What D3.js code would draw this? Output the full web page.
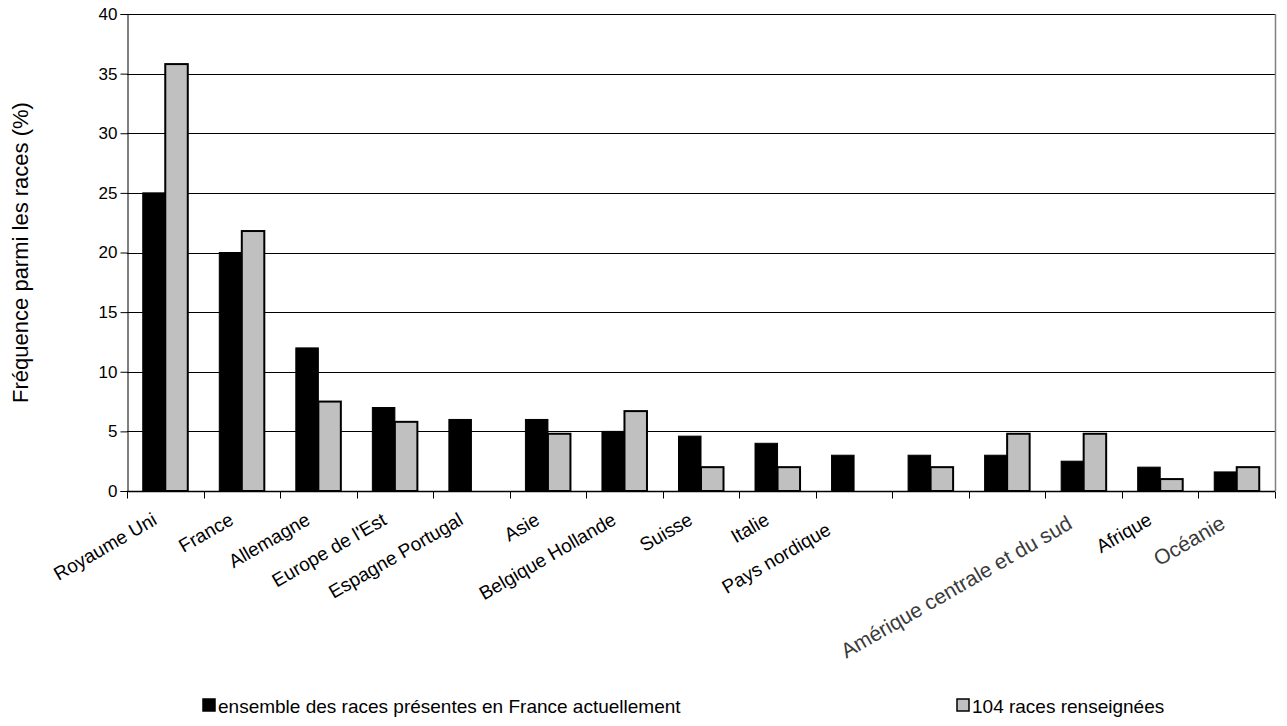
<!DOCTYPE html>
<html>
<head>
<meta charset="utf-8">
<script src="https://cdn.jsdelivr.net/npm/d3@7"></script>
<style>
  body { margin: 0; background: #fff; }
  text { font-family: "Liberation Sans", Arial, sans-serif; fill: #000; }
</style>
</head>
<body>
<div id="chart-container"></div>
<script>
// Data
const categories = ["Royaume Uni", "France", "Allemagne", "Europe de l'Est", "Espagne Portugal",
  "Asie", "Belgique Hollande", "Suisse", "Italie", "Pays nordique", "", "",
  "Amérique centrale et du sud", "Afrique", "Océanie"];
const seriesNames = ["ensemble des races présentes en France actuellement", "104 races renseignées"];
const allBreeds = [25, 20, 12, 7, 6, 6, 5, 4.6, 4, 3, 3, 3, 2.5, 2, 1.6];
const breeds104 = [35.8, 21.8, 7.5, 5.8, 0, 4.8, 6.7, 2, 2, 0, 2, 4.8, 4.8, 1, 2];
const yTicks = [0, 5, 10, 15, 20, 25, 30, 35, 40];
const seriesColors = ["#000000", "#c0c0c0"];

// Set dimensions and margins for the chart
const margin = { top: 14, right: 12, bottom: 235, left: 127 };
const width = 1287 - margin.left - margin.right;
const height = 726 - margin.top - margin.bottom;

const svg = d3.select("#chart-container")
    .append("svg")
        .attr("width", 1287)
        .attr("height", 726)
    .append("g")
        .attr("transform", `translate(${margin.left},${margin.top})`);

// Scales
const x0 = d3.scaleBand()
    .domain(d3.range(categories.length))
    .range([0, width])
    .padding(0);

const x1 = d3.scaleBand()
    .domain([0, 1])
    .range([0, x0.bandwidth()])
    .paddingInner(0)
    .paddingOuter(0.7);

const y = d3.scaleLinear().domain([0, 40]).range([height, 0]);

// Horizontal grid lines
svg.append("g")
    .selectAll("line")
    .data(yTicks.filter(d => d > 0))
    .join("line")
    .attr("x1", 0)
    .attr("x2", width)
    .attr("y1", d => Math.round(y(d)) + 0.5)
    .attr("y2", d => Math.round(y(d)) + 0.5)
    .attr("stroke", "#000")
    .attr("stroke-width", 1);

// Right border of the plot area
svg.append("line")
    .attr("x1", width + 0.5)
    .attr("x2", width + 0.5)
    .attr("y1", 0)
    .attr("y2", height)
    .attr("stroke", "#808080")
    .attr("stroke-width", 1.5);

// Bars
const rows = categories.map((c, i) => [allBreeds[i], breeds104[i]]);

const groups = svg.append("g")
    .selectAll("g")
    .data(rows)
    .join("g")
    .attr("transform", (d, i) => `translate(${x0(i)},0)`);

groups.selectAll("rect")
    .data(d => d.map((v, s) => ({ v, s })).filter(d => d.v > 0))
    .join("rect")
    .attr("x", d => x1(d.s))
    .attr("y", d => y(d.v))
    .attr("width", x1.bandwidth())
    .attr("height", d => y(0) - y(d.v))
    .attr("fill", d => seriesColors[d.s])
    .attr("stroke", "#000")
    .attr("stroke-width", d => d.s === 1 ? 2 : 1);

// Y axis
svg.append("g")
    .attr("transform", "translate(0.5,0)")
    .call(d3.axisLeft(y).tickValues(yTicks).tickSize(7).tickPadding(3))
    .call(g => g.select(".domain").attr("stroke", "#000"))
    .call(g => g.selectAll("text").style("font-size", "17px"));

// X axis (ticks between categories)
const xAxis = svg.append("g")
    .attr("transform", `translate(0,${height + 0.5})`);

xAxis.append("line")
    .attr("x1", 0)
    .attr("x2", width)
    .attr("stroke", "#000")
    .attr("stroke-width", 1.5);

xAxis.selectAll(".tick")
    .data(d3.range(categories.length + 1))
    .join("line")
    .attr("class", "tick")
    .attr("x1", i => Math.round(i * x0.step()) + 0.5)
    .attr("x2", i => Math.round(i * x0.step()) + 0.5)
    .attr("y1", 0)
    .attr("y2", 7)
    .attr("stroke", "#000");

// Category labels, rotated (the last two were pasted in larger and greyer)
const pasted = d => d === "Océanie" || d.startsWith("Amérique");

xAxis.selectAll(".lbl")
    .data(categories)
    .join("text")
    .attr("class", "lbl")
    .attr("text-anchor", "end")
    .attr("transform", (d, i) => {
        const cx = x0(i) + x0.bandwidth() / 2;
        if (d === "Pays nordique") return `translate(${cx - 22},${42}) rotate(-30)`;
        if (pasted(d)) return `translate(${cx - 10},${36}) rotate(-30)`;
        return `translate(${cx - 7},${32}) rotate(-30)`;
    })
    .style("font-size", d => pasted(d) ? "21px" : "19px")
    .style("fill", d => pasted(d) ? "#3a3a3a" : "#000")
    .text(d => d);

// Y axis title
svg.append("text")
    .attr("transform", `translate(${-margin.left + 28},${height / 2}) rotate(-90)`)
    .attr("text-anchor", "middle")
    .style("font-size", "22px")
    .text("Fréquence parmi les races (%)");

// Legend
const legend = svg.append("g")
    .attr("transform", `translate(0,${height + 222})`);

const legendX = [76, 830];
seriesNames.forEach((name, s) => {
    const item = legend.append("g").attr("transform", `translate(${legendX[s]},0)`);
    item.append("rect")
        .attr("x", 0)
        .attr("y", -14)
        .attr("width", 12)
        .attr("height", 12)
        .attr("fill", seriesColors[s])
        .attr("stroke", "#000")
        .attr("stroke-width", 1.5);
    item.append("text")
        .attr("x", 15)
        .attr("y", 0)
        .style("font-size", "19px")
        .text(name);
});
</script>
</body>
</html>
